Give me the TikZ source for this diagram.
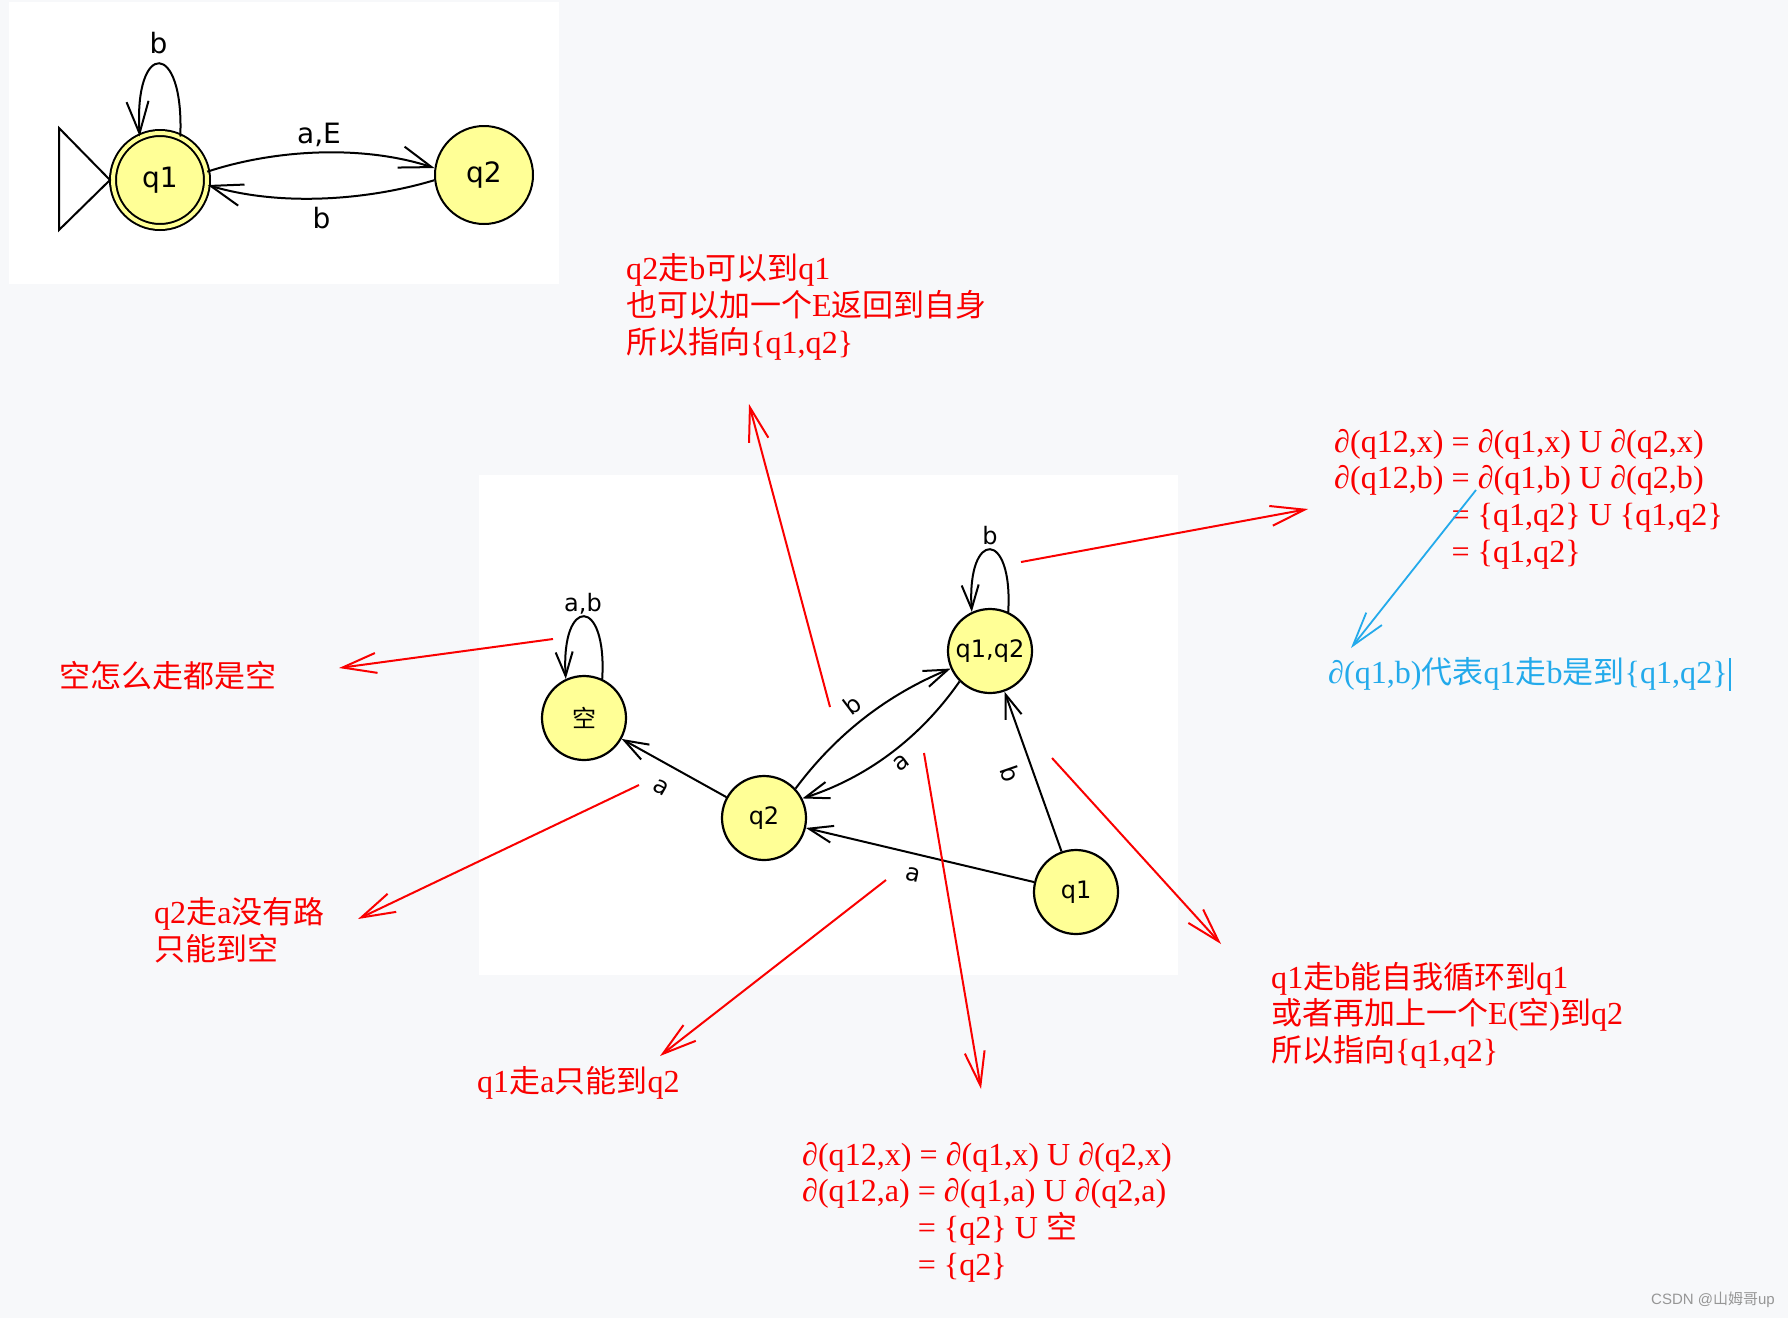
\documentclass[tikz,border=0pt]{standalone}
\usepackage{fontspec}
\setmainfont{Liberation Serif}[Scale=1.035]
\newfontfamily\cjk{Noto Sans CJK SC}
\newfontfamily\dejavu{DejaVu Sans}
\newfontfamily\libsans{Liberation Sans}
\usetikzlibrary{arrows.meta}
\newcommand\zh[1]{{\cjk #1}}
\definecolor{bgc}{RGB}{247,248,250}
\definecolor{nodey}{RGB}{255,255,150}
\definecolor{annred}{RGB}{250,0,0}
\definecolor{annblue}{RGB}{35,170,235}
\definecolor{wmgray}{RGB}{150,150,150}
\tikzset{
  stateT/.style={circle, draw=black, line width=2pt, fill=nodey, inner sep=0pt,
    font=\dejavu\fontsize{28}{30}\selectfont},
  stateM/.style={circle, draw=black, line width=2.2pt, fill=nodey, inner sep=0pt,
    minimum size=84pt, font=\dejavu\fontsize{24}{26}\selectfont},
  lblT/.style={inner sep=0pt, font=\dejavu\fontsize{28}{30}\selectfont},
  lblM/.style={inner sep=0pt, font=\dejavu\fontsize{24}{26}\selectfont},
  dfaT/.style={line width=2pt, -{Straight Barb[length=32pt,width=22pt]}},
  dfaM/.style={line width=2pt, -{Straight Barb[length=24pt,width=17pt]}},
  redarr/.style={draw=annred, line width=2pt, -{Straight Barb[length=34pt,width=20pt]}},
  bluearr/.style={draw=annblue, line width=1.8pt, -{Straight Barb[length=34pt,width=20pt]}},
  ann/.style={inner sep=0pt, text=annred, align=left, anchor=west,
    font=\fontsize{31}{36.6}\selectfont},
  annB/.style={ann, text=annblue},
}
\begin{document}
\begin{tikzpicture}[x=1pt,y=1pt]
\fill[bgc] (0,0) rectangle (1788,-1318);
\useasboundingbox (0,0) rectangle (1788,-1318);
\fill[white] (9,-2) rectangle (559,-284);
\fill[white] (479,-475) rectangle (1178,-975);

% ---------- top diagram ----------
\node[stateT, double, double distance=4pt, double=nodey, minimum size=94pt] (t1) at (160,-180) {q1};
\node[stateT, minimum size=98pt] (t2) at (484,-175) {q2};
\coordinate (tip) at (110,-180);
\draw[line width=2pt, line join=miter] (59,-128) -- (tip) -- (59,-230) -- cycle;
\draw[dfaT] (t1.65) .. controls +(4,97) and +(-6,97) .. (t1.115);
\draw[dfaT] (t1.10) .. controls +(70,23) and +(-70,23) .. (t2.172);
\draw[dfaT] (t2.186) .. controls +(-70,-21) and +(70,-21) .. (t1.-6);
\node[lblT] (lt1) at (158.5,-43) {b};
\node[lblT] (lt2) at (319,-135) {a,E};
\node[lblT] (lt3) at (321.5,-218) {b};

% ---------- main diagram ----------
\node[stateM] (kong) at (584,-718) {\zh{空}};
\node[stateM] (q12) at (990,-651) {q1,q2};
\node[stateM] (q2) at (764,-818) {q2};
\node[stateM] (q1) at (1076,-892) {q1};
\draw[dfaM] (kong.65) .. controls +(5,83) and +(-5,83) .. (kong.115);
\draw[dfaM] (q12.65) .. controls +(5,83) and +(-5,83) .. (q12.115);
\draw[dfaM] (q2) -- (kong);
\draw[dfaM] (q1) -- (q2);
\draw[dfaM] (q1) -- (q12);
\draw[dfaM] (q2.43) .. controls +(41,55) and +(-63,-26) .. (q12.204);
\draw[dfaM] (q12.225) .. controls +(-39,-56) and +(65,21) .. (q2.27);
\node[lblM] (lm1) at (583,-604) {a,b};
\node[lblM] (lm2) at (990,-536) {b};
\node[lblM, rotate=-30] (lm3) at (661,-787) {a};
\node[lblM, rotate=37] (lm4) at (852,-705) {b};
\node[lblM, rotate=37] (lm5) at (901,-763) {a};
\node[lblM, rotate=-13] (lm6) at (913,-875) {a};
\node[lblM, rotate=-71] (lm7) at (1010,-774) {b};

% ---------- annotations ----------
\node[ann] (tA) at (59,-676) {\zh{空怎么走都是空}};
\node[ann] (tB) at (154,-930) {q2\zh{走}a\zh{没有路}\\\zh{只能到空}};
\node[ann] (tC) at (626,-307) {q2\zh{走}b\zh{可以到}q1\\\zh{也可以加一个}E\zh{返回到自身}\\\zh{所以指向}\{q1,q2\}};
\node[ann] (tD) at (1334,-499) {∂(q12,x) = ∂(q1,x) U ∂(q2,x)\\∂(q12,b) = ∂(q1,b) U ∂(q2,b)\\\phantom{∂(q12,b) }= \{q1,q2\} U \{q1,q2\}\\\phantom{∂(q12,b) }= \{q1,q2\}};
\node[annB] (tE) at (1328,-674) {∂(q1,b)\zh{代表}q1\zh{走}b\zh{是到}\{q1,q2\}\hspace{1pt}\rule[-7pt]{2.5pt}{33pt}};
\node[ann] (tF) at (1271,-1015) {q1\zh{走}b\zh{能自我循环到}q1\\\zh{或者再加上一个}E(\zh{空})\zh{到}q2\\\zh{所以指向}\{q1,q2\}};
\node[ann] (tG) at (802,-1212) {∂(q12,x) = ∂(q1,x) U ∂(q2,x)\\∂(q12,a) = ∂(q1,a) U ∂(q2,a)\\\phantom{∂(q12,a) }= \{q2\} U \zh{空}\\\phantom{∂(q12,a) }= \{q2\}};
\node[ann] (tH) at (477,-1083) {q1\zh{走}a\zh{只能到}q2};

\coordinate (r1s) at (553,-639);  \coordinate (r1e) at (339,-668);
\coordinate (r2s) at (639,-785);  \coordinate (r2e) at (358,-919);
\coordinate (r3s) at (830,-707);  \coordinate (r3e) at (749,-404);
\coordinate (r4s) at (1021,-562); \coordinate (r4e) at (1308,-509);
\coordinate (r6s) at (1052,-758); \coordinate (r6e) at (1221,-944);
\coordinate (r7s) at (924,-753);  \coordinate (r7e) at (981,-1089);
\coordinate (r8s) at (886,-880);  \coordinate (r8e) at (660,-1056);
\coordinate (b1s) at (1476,-490); \coordinate (b1e) at (1351,-648);
\draw[redarr] (r1s) -- (r1e);
\draw[redarr] (r2s) -- (r2e);
\draw[redarr] (r3s) -- (r3e);
\draw[redarr] (r4s) -- (r4e);
\draw[redarr] (r6s) -- (r6e);
\draw[redarr] (r7s) -- (r7e);
\draw[redarr] (r8s) -- (r8e);
\draw[bluearr] (b1s) -- (b1e);

\node[inner sep=0pt, anchor=east, text=wmgray, font=\libsans\fontsize{15}{17}\selectfont] (wm) at (1775,-1300) {CSDN @\zh{山姆哥}up};
\end{tikzpicture}
\end{document}
